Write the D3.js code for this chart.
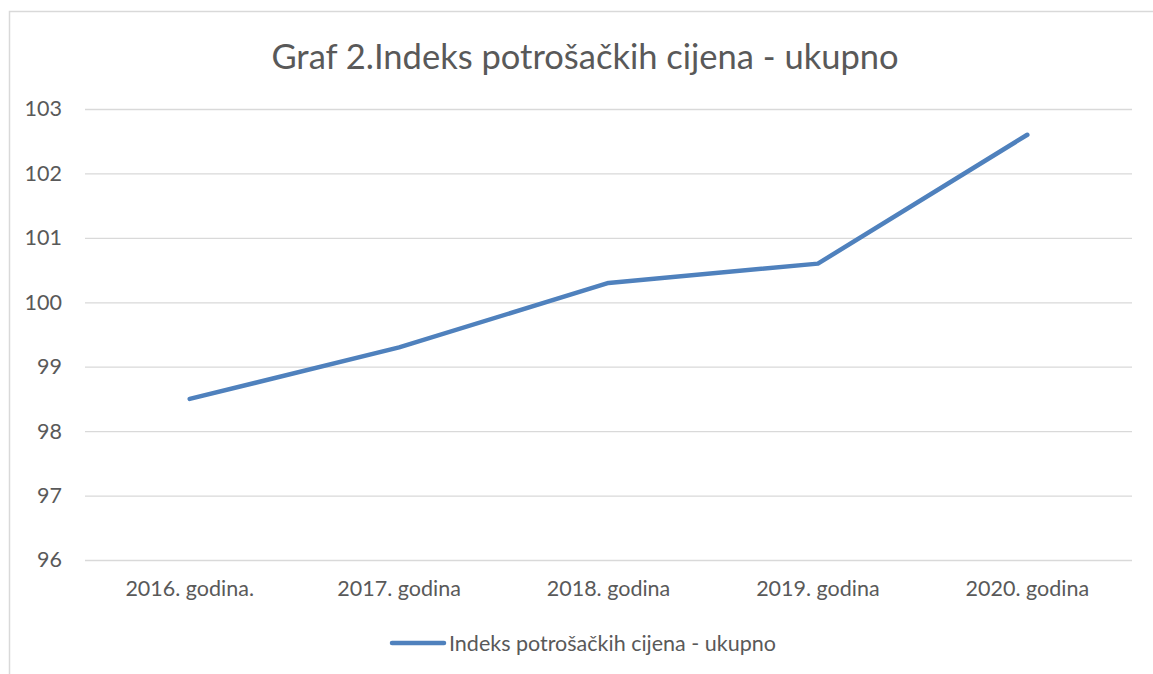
<!DOCTYPE html>
<html><head><meta charset="utf-8">
<script src="https://cdn.jsdelivr.net/npm/d3@7"></script>
<style>body{margin:0;background:#fff}svg{display:block}text{font-family:Lato,"Open Sans",sans-serif;fill:#595959}</style>
</head><body><svg id="c" width="1153" height="674"></svg>
<script>
const categories = ["2016. godina.","2017. godina","2018. godina","2019. godina","2020. godina"];
const values = [98.5, 99.3, 100.3, 100.6, 102.6];
const yTicks = [96,97,98,99,100,101,102,103];
const title = "Graf 2.Indeks potrošačkih cijena - ukupno";
const seriesName = "Indeks potrošačkih cijena - ukupno";

const svg = d3.select("#c");
svg.append("rect").attr("x",9.5).attr("y",11.5).attr("width",1160).attr("height",700)
  .attr("fill","none").attr("stroke","#d9d9d9").attr("stroke-width",1.5);

const pL=85, pR=1132, pT=109, pB=560;
const x = d3.scaleBand().domain(categories).range([pL,pR]);
const y = d3.scaleLinear().domain([96,103]).range([pB,pT]);

svg.append("text").attr("x",585).attr("y",69).attr("text-anchor","middle")
  .style("font-size","34.5px").text(title);

const yAxis = svg.append("g").attr("transform",`translate(${pL},0)`)
  .call(d3.axisLeft(y).tickValues(yTicks).tickSize(-(pR-pL)).tickPadding(22).tickFormat(d3.format("d")));
yAxis.select(".domain").remove();
yAxis.selectAll("line").attr("stroke","#d9d9d9").attr("stroke-width",1.3);
yAxis.selectAll("text").style("font-size","21.5px").attr("fill","#595959").attr("x",-23).attr("text-anchor","end");

const xAxis = svg.append("g").attr("transform",`translate(0,${pB})`)
  .call(d3.axisBottom(x).tickSize(0).tickPadding(21));
xAxis.select(".domain").remove();
xAxis.selectAll("text").style("font-size","21.5px").attr("fill","#595959");

const line = d3.line().x((d,i)=>x(categories[i])+x.bandwidth()/2).y(d=>y(d));
svg.append("path").datum(values).attr("d",line).attr("fill","none")
  .attr("stroke","#4f81bd").attr("stroke-width",4.5).attr("stroke-linecap","round").attr("stroke-linejoin","round");

const lg = svg.append("g");
lg.append("line").attr("x1",392).attr("x2",444).attr("y1",643).attr("y2",643)
  .attr("stroke","#4f81bd").attr("stroke-width",4.5).attr("stroke-linecap","round");
lg.append("text").attr("x",449).attr("y",651).style("font-size","21.5px").text(seriesName);
</script></body></html>
